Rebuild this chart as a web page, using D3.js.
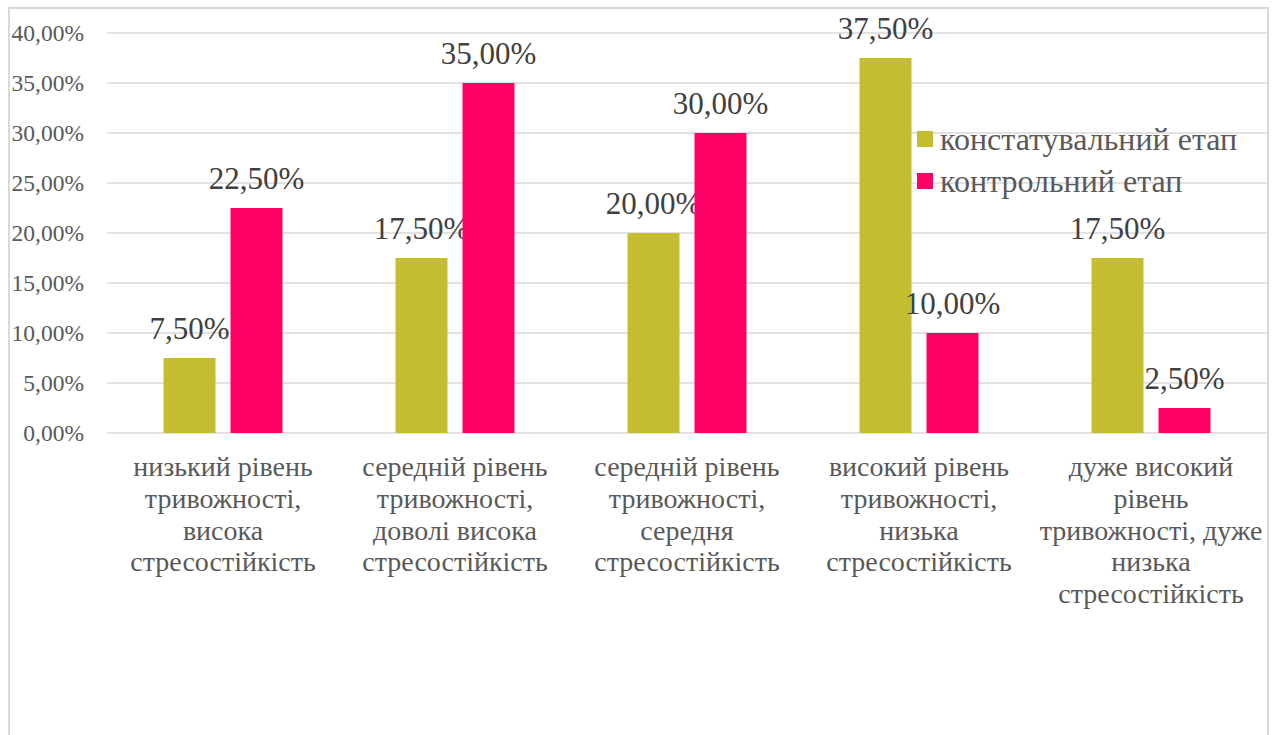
<!DOCTYPE html>
<html><head><meta charset="utf-8">
<script src="https://cdn.jsdelivr.net/npm/d3@7"></script>
<style>body{margin:0;background:#fff;} svg{display:block;} text{font-family:"Liberation Serif","Times New Roman",serif !important;}</style>
</head><body>
<svg id="c" width="1278" height="735"></svg>
<script>
const categories = [
  ["низький рівень","тривожності,","висока","стресостійкість"],
  ["середній рівень","тривожності,","доволі висока","стресостійкість"],
  ["середній рівень","тривожності,","середня","стресостійкість"],
  ["високий рівень","тривожності,","низька","стресостійкість"],
  ["дуже високий","рівень","тривожності, дуже","низька","стресостійкість"]
];
const seriesNames = ["констатувальний етап","контрольний етап"];
const constValues = [7.5, 17.5, 20.0, 37.5, 17.5];
const controlValues = [22.5, 35.0, 30.0, 10.0, 2.5];
const yTicks = [0,5,10,15,20,25,30,35,40];
const colors = ["#C3BD2F","#FF0066"];

(function(){
const FF = '"Liberation Serif","Times New Roman",serif';
const svg = d3.select("#c");
svg.append("rect").attr("x",9).attr("y",8).attr("width",1259).attr("height",740)
  .attr("fill","#fff").attr("stroke","#D9D9D9").attr("stroke-width",2);

const pL=107,pR=1267,pT=33,pB=433;
const x0 = d3.scaleBand().domain(d3.range(categories.length)).range([pL,pR]);
const y = d3.scaleLinear().domain([0,40]).range([pB,pT]);
const fmt = v => d3.format(".2f")(v).replace(".",",")+"%";

svg.append("g").selectAll("line").data(yTicks).join("line")
  .attr("x1",pL).attr("x2",pR).attr("y1",d=>y(d)).attr("y2",d=>y(d))
  .attr("stroke","#D9D9D9").attr("stroke-width",1.5);

const yAxis = d3.axisLeft(y).tickValues(yTicks).tickSize(0).tickPadding(0).tickFormat(fmt);
const ga = svg.append("g").attr("transform",`translate(84,0)`).call(yAxis);
ga.attr("font-family",null).attr("font-size",null);
ga.select(".domain").remove();
ga.selectAll("text").style("font-size","23.5px").attr("fill","#595959")
  .style("font-family",FF).attr("dy","0.33em");

const barW=52, gap=15;
const series=[constValues,controlValues];
const groupW = barW*2+gap;
series.forEach((vals,si)=>{
  const g = svg.append("g");
  const bx = i => x0(i)+x0.bandwidth()/2 - groupW/2 + si*(barW+gap);
  g.selectAll("rect").data(vals).join("rect")
    .attr("x",(d,i)=>bx(i)).attr("width",barW)
    .attr("y",d=>y(d)).attr("height",d=>pB-y(d))
    .attr("fill",colors[si]);
  g.selectAll("text").data(vals).join("text")
    .attr("x",(d,i)=>bx(i)+barW/2).attr("y",d=>y(d)-19)
    .attr("text-anchor","middle").style("font-size","31px").style("font-family",FF).attr("fill","#404040")
    .text(fmt);
});

const gx = svg.append("g");
categories.forEach((lines,i)=>{
  const t = gx.append("text").attr("text-anchor","middle").style("font-size","28px").style("font-family",FF).attr("fill","#595959");
  lines.forEach((l,j)=>{
    t.append("tspan").attr("x",x0(i)+x0.bandwidth()/2).attr("y",476+j*31.8).text(l);
  });
});

const lg = svg.append("g");
seriesNames.forEach((n,i)=>{
  const yy = 131+i*42;
  lg.append("rect").attr("x",917).attr("y",yy).attr("width",16).attr("height",16).attr("fill",colors[i]);
  lg.append("text").attr("x",940).attr("y",yy+19).style("font-size","32px").style("font-family",FF).attr("fill","#595959").text(n);
});
})();
</script>
</body></html>
